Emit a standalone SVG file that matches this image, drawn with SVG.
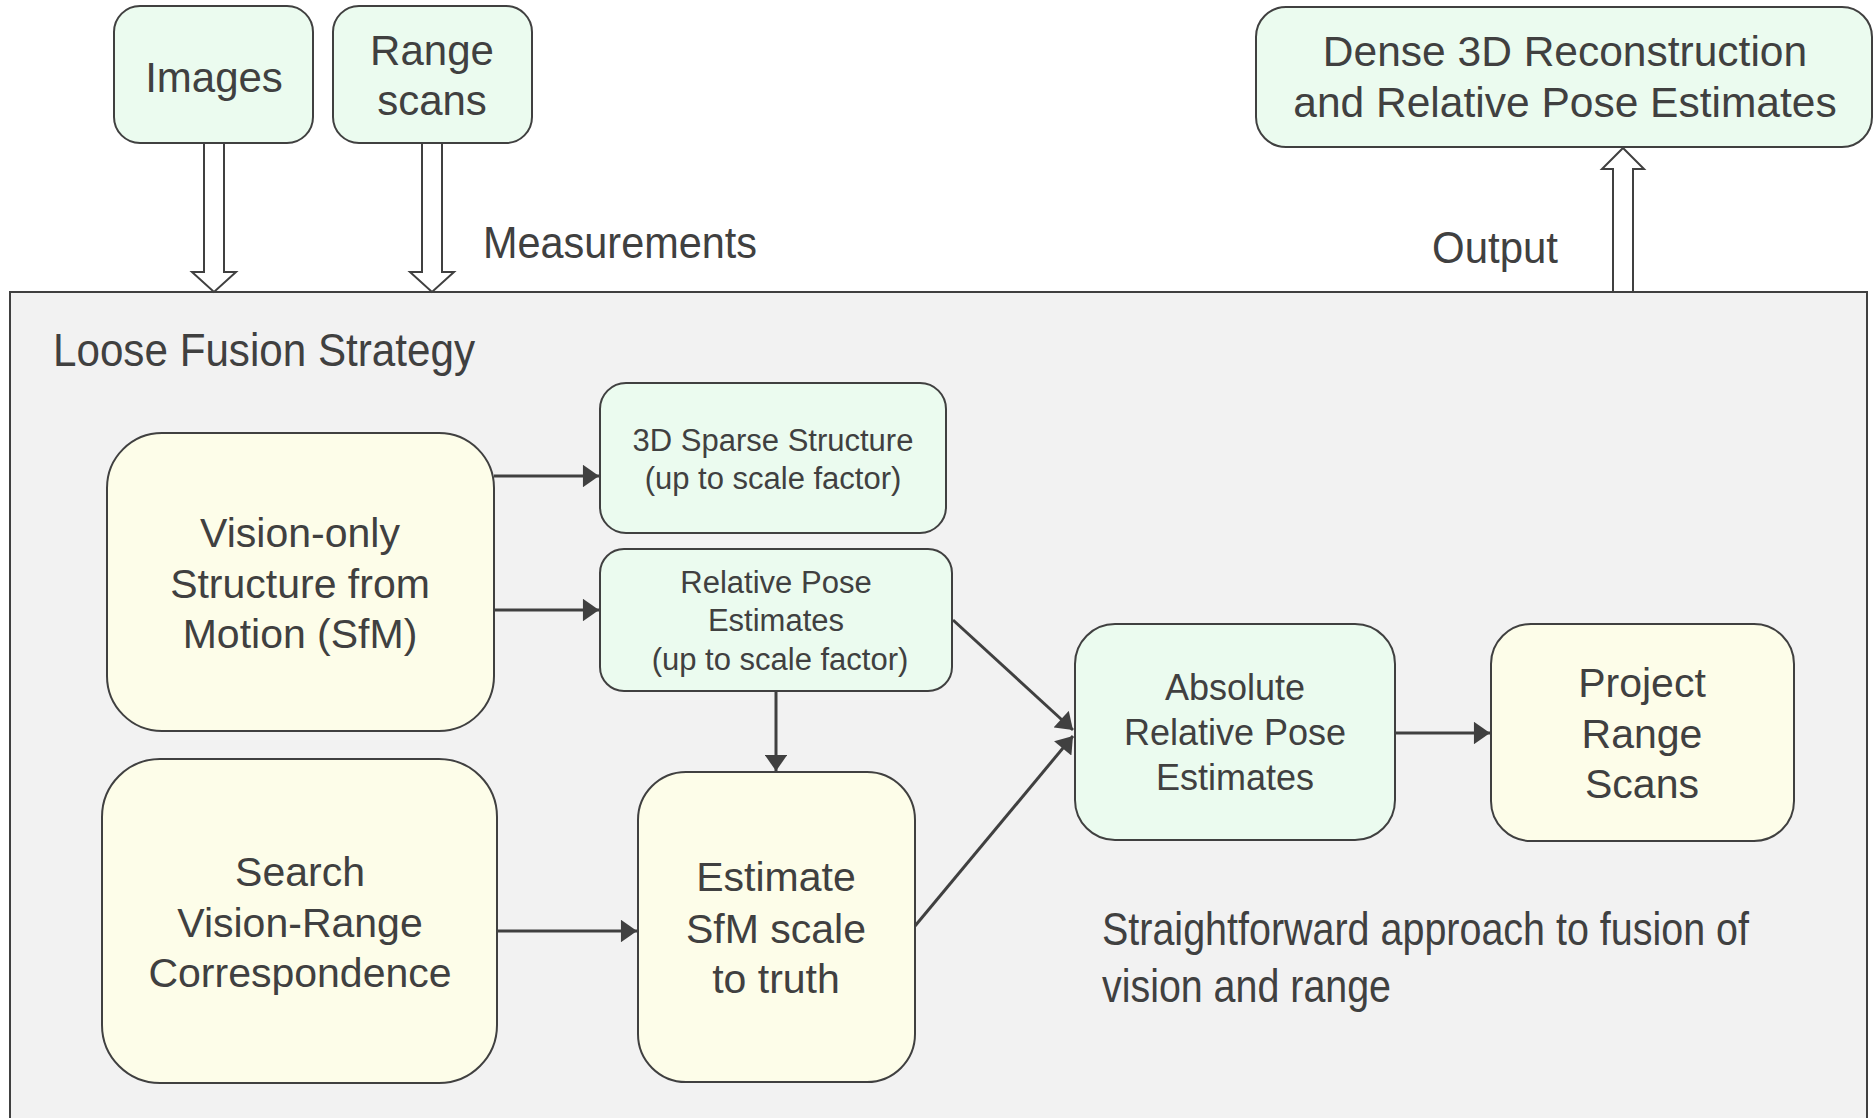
<svg xmlns="http://www.w3.org/2000/svg" width="1875" height="1118" viewBox="0 0 1875 1118">
<style>
.box{stroke:#404040;stroke-width:2}
.g{fill:#ebfbef}
.y{fill:#fdfde9}
.t{font-family:"Liberation Sans",Arial,sans-serif;fill:#404040;text-anchor:middle}
.n{font-family:"Liberation Sans Narrow","Liberation Sans",Arial,sans-serif;fill:#404040}
.c{stroke:#404040;stroke-width:3;fill:none}
.h{fill:#fff;stroke:#404040;stroke-width:2}
</style>
<defs>
<marker id="ah" viewBox="0 0 10 14" refX="10" refY="7" markerWidth="5.7" markerHeight="7.5" orient="auto" markerUnits="strokeWidth">
<path d="M0,0 L10,7 L0,14 Z" fill="#404040"/>
</marker>
</defs>
<rect width="1875" height="1118" fill="#fff"/>
<g id="container">
<rect x="10" y="292" width="1857" height="840" fill="#f2f2f2" stroke="#404040" stroke-width="2"/>
<text class="n" x="53" y="366" font-size="47" textLength="422" lengthAdjust="spacingAndGlyphs">Loose Fusion Strategy</text>
</g>
<g id="images">
<rect class="box g" x="114" y="6" width="199" height="137" rx="26"/>
<text class="t" x="214" y="92" font-size="42">Images</text>
</g>
<g id="range-scans">
<rect class="box g" x="333" y="6" width="199" height="137" rx="26"/>
<text class="t" x="432" y="65" font-size="42">Range</text>
<text class="t" x="432" y="115" font-size="42">scans</text>
</g>
<g id="dense">
<rect class="box g" x="1256" y="7" width="616" height="140" rx="30"/>
<text class="t" x="1565" y="66" font-size="42.5">Dense 3D Reconstruction</text>
<text class="t" x="1565" y="117" font-size="42.5">and Relative Pose Estimates</text>
</g>
<g id="vision-only">
<rect class="box y" x="107" y="433" width="387" height="298" rx="55"/>
<text class="t" x="300" y="547" font-size="41">Vision-only</text>
<text class="t" x="300" y="598" font-size="41">Structure from</text>
<text class="t" x="300" y="648" font-size="41">Motion (SfM)</text>
</g>
<g id="sparse">
<rect class="box g" x="600" y="383" width="346" height="150" rx="26"/>
<text class="t" x="773" y="451" font-size="31">3D Sparse Structure</text>
<text class="t" x="773" y="489" font-size="31">(up to scale factor)</text>
</g>
<g id="relpose">
<rect class="box g" x="600" y="549" width="352" height="142" rx="24"/>
<text class="t" x="776" y="593" font-size="31">Relative Pose</text>
<text class="t" x="776" y="631" font-size="31">Estimates</text>
<text class="t" x="780" y="670" font-size="31">(up to scale factor)</text>
</g>
<g id="search">
<rect class="box y" x="102" y="759" width="395" height="324" rx="58"/>
<text class="t" x="300" y="886" font-size="41">Search</text>
<text class="t" x="300" y="937" font-size="41">Vision-Range</text>
<text class="t" x="300" y="987" font-size="41">Correspondence</text>
</g>
<g id="estimate">
<rect class="box y" x="638" y="772" width="277" height="310" rx="48"/>
<text class="t" x="776" y="891" font-size="41">Estimate</text>
<text class="t" x="776" y="943" font-size="41">SfM scale</text>
<text class="t" x="776" y="993" font-size="41">to truth</text>
</g>
<g id="absolute">
<rect class="box g" x="1075" y="624" width="320" height="216" rx="40"/>
<text class="t" x="1235" y="700" font-size="36">Absolute</text>
<text class="t" x="1235" y="745" font-size="36">Relative Pose</text>
<text class="t" x="1235" y="790" font-size="36">Estimates</text>
</g>
<g id="project">
<rect class="box y" x="1491" y="624" width="303" height="217" rx="40"/>
<text class="t" x="1642" y="697" font-size="41">Project</text>
<text class="t" x="1642" y="748" font-size="41">Range</text>
<text class="t" x="1642" y="798" font-size="41">Scans</text>
</g>
<g id="labels">
<text class="n" x="483" y="258" font-size="45" textLength="274" lengthAdjust="spacingAndGlyphs">Measurements</text>
<text class="n" x="1432" y="263" font-size="45" textLength="126" lengthAdjust="spacingAndGlyphs">Output</text>
<text class="n" x="1102" y="945" font-size="46" textLength="647" lengthAdjust="spacingAndGlyphs">Straightforward approach to fusion of</text>
<text class="n" x="1102" y="1002" font-size="46" textLength="289" lengthAdjust="spacingAndGlyphs">vision and range</text>
</g>
<g id="connectors">
<path class="h" d="M204,143 L224,143 L224,272 L236,272 L214,292 L192,272 L204,272 Z"/>
<path class="h" d="M422,143 L442,143 L442,272 L454,272 L432,292 L410,272 L422,272 Z"/>
<path class="h" d="M1613,292 L1633,292 L1633,169 L1644,169 L1623,148 L1602,169 L1613,169 Z"/>
<line class="c" x1="494" y1="476" x2="599" y2="476" marker-end="url(#ah)"/>
<line class="c" x1="494" y1="610" x2="599" y2="610" marker-end="url(#ah)"/>
<line class="c" x1="776" y1="691" x2="776" y2="771" marker-end="url(#ah)"/>
<line class="c" x1="497" y1="931" x2="637" y2="931" marker-end="url(#ah)"/>
<line class="c" x1="1395" y1="733" x2="1490" y2="733" marker-end="url(#ah)"/>
<line class="c" x1="953" y1="620" x2="1073" y2="730" marker-end="url(#ah)"/>
<line class="c" x1="915" y1="926" x2="1073" y2="736" marker-end="url(#ah)"/>
</g>
</svg>
